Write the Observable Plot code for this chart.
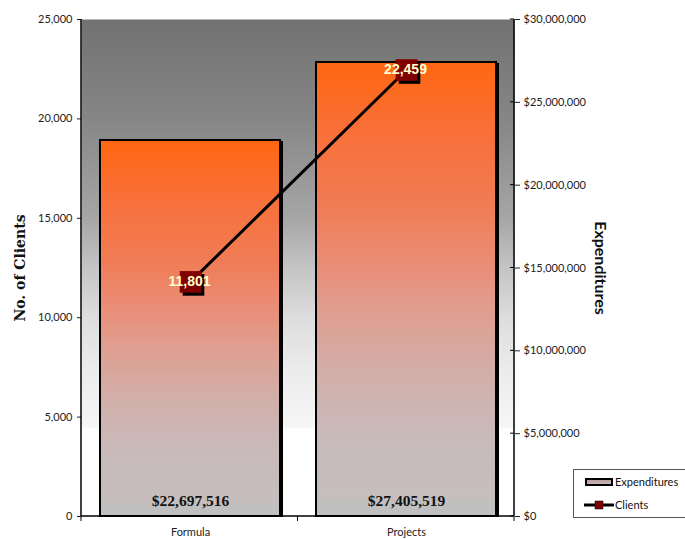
<!DOCTYPE html>
<html>
<head>
<meta charset="utf-8">
<script src="https://cdn.jsdelivr.net/npm/d3@7"></script>
<script src="https://cdn.jsdelivr.net/npm/@observablehq/plot@0.6"></script>
<style>
  html, body { margin: 0; padding: 0; background: #fff; }
  #wrap { position: relative; width: 685px; height: 539px; }
  #legend { position: absolute; left: 573px; top: 469px; width: 111px; height: 47px;
            border: 1px solid #555; background: #fff; font-family: Lato, sans-serif; font-size: 11px; color: #111; }
</style>
</head>
<body>
<div id="wrap"></div>
<script>
// ---- data ----
const categories = ["Formula", "Projects"];
const expenditures = [22697516, 27405519];
const clients = [11801, 22459];
const clientTicks = [0, 5000, 10000, 15000, 20000, 25000];
const expenditureTicks = [0, 5000000, 10000000, 15000000, 20000000, 25000000, 30000000];
const clientMax = 25000;
const expenditureMax = 30000000;

const rows = categories.map((c, i) => ({category: c, exp: expenditures[i], clients: clients[i]}));
// secondary (right) axis mapped onto the primary y scale
const expToY = d3.scaleLinear([0, expenditureMax], [0, clientMax]);
const money = v => "$" + d3.format(",")(Math.round(v));

const W = 685, H = 539;
const mL = 81, mR = 171, mT = 19, mB = 23;

// custom mark: axis lines, inner right ticks and category-boundary ticks
const axisLines = (index, scales, values, dim) => {
  const g = d3.create("svg:g").attr("stroke", "#000");
  const x0 = dim.marginLeft, x1 = dim.width - dim.marginRight;
  const y0 = dim.marginTop, y1 = dim.height - dim.marginBottom;
  g.append("line").attr("x1", x0).attr("x2", x0).attr("y1", y0).attr("y2", y1).attr("stroke-width", 1.5);
  g.append("line").attr("x1", x1).attr("x2", x1).attr("y1", y0).attr("y2", y1).attr("stroke-width", 1.5);
  g.append("line").attr("x1", x0).attr("x2", x1).attr("y1", y1).attr("y2", y1).attr("stroke-width", 1.5);
  for (const t of expenditureTicks) {
    const y = scales.y(expToY(t));
    g.append("line").attr("x1", x1 - 4).attr("x2", x1).attr("y1", y).attr("y2", y).attr("stroke-width", 1);
  }
  const n = categories.length;
  for (let i = 0; i <= n; i++) {
    const x = x0 + i * (x1 - x0) / n;
    g.append("line").attr("x1", x).attr("x2", x).attr("y1", y1).attr("y2", y1 + 5).attr("stroke-width", 1);
  }
  return g.node();
};

const chart = Plot.plot({
  width: W, height: H,
  marginLeft: mL, marginRight: mR, marginTop: mT, marginBottom: mB,
  style: {fontFamily: "Lato, sans-serif", fontSize: "11px", background: "transparent", color: "#222"},
  x: {domain: categories, paddingInner: 1/6, paddingOuter: 1/12, axis: null},
  y: {domain: [0, clientMax], axis: null},
  marks: [
    Plot.frame({fill: "url(#bgGrad)", stroke: "none"}),
    // bar shadows
    Plot.barY(rows, {x: "category", y: d => expToY(d.exp), fill: "#000", dx: 3, dy: 1}),
    // bars
    Plot.barY(rows, {x: "category", y: d => expToY(d.exp), fill: "url(#barGrad)", stroke: "#000", strokeWidth: 2}),
    // bar value labels
    Plot.text(rows, {x: "category", y: 0, text: d => money(d.exp), dy: -15,
      fontFamily: "'Liberation Serif', serif", fontWeight: "bold", fontSize: 15.5, fill: "#111"}),
    // clients line
    Plot.line(rows, {x: "category", y: "clients", stroke: "#000", strokeWidth: 3}),
    Plot.dot(rows, {x: "category", y: "clients", symbol: "square", r: 12.2, fill: "#000", dx: 3, dy: 3}),
    Plot.dot(rows, {x: "category", y: "clients", symbol: "square", r: 12.2, fill: "#800000"}),
    Plot.text(rows, {x: "category", y: "clients", text: d => d3.format(",")(d.clients), dx: -1,
      fontFamily: "'Liberation Sans', Arial, sans-serif", fontWeight: "bold", fontSize: 14, fill: "#ffffcc"}),
    // left axis
    Plot.axisY(clientTicks, {anchor: "left", tickFormat: d3.format(","), tickSize: 4, tickPadding: 5, label: null}),
    // right axis (expenditures)
    Plot.axisY(expenditureTicks.map(expToY), {anchor: "right", tickFormat: v => money(expToY.invert(v)), tickSize: 5, tickPadding: 4, label: null}),
    // x axis labels
    Plot.axisX(categories, {anchor: "bottom", tickSize: 0, tickPadding: 12, label: null}),
    // axis titles
    Plot.text(["No. of Clients"], {frameAnchor: "left", text: d => d, rotate: -90, dx: -61, textAnchor: "middle",
      fontFamily: "'DejaVu Serif', serif", fontWeight: "bold", fontSize: 14, fill: "#111"}),
    Plot.text(["Expenditures"], {frameAnchor: "right", text: d => d, rotate: 90, dx: 86, textAnchor: "middle",
      fontFamily: "Lato, sans-serif", fontWeight: "bold", fontSize: 16, fill: "#111"}),
    axisLines
  ]
});

// gradients
const defs = d3.select(chart).insert("defs", ":first-child");
const bg = defs.append("linearGradient").attr("id", "bgGrad").attr("x1", 0).attr("x2", 0).attr("y1", 0).attr("y2", 1);
[[0, "#727272"], [0.2, "#868686"], [0.4, "#a6a6a6"], [0.5, "#c4c4c4"], [0.6, "#dddddd"], [0.7, "#ebebeb"],
 [0.82, "#f6f6f6"], [0.825, "#ffffff"], [1, "#ffffff"]]
  .forEach(([o, c]) => bg.append("stop").attr("offset", o).attr("stop-color", c));
const bar = defs.append("linearGradient").attr("id", "barGrad").attr("x1", 0).attr("x2", 0).attr("y1", 0).attr("y2", 1);
[[0, "#ff6611"], [0.16, "#f8703a"], [0.32, "#f07c55"], [0.45, "#e98e78"], [0.55, "#e09e90"], [0.68, "#d2aea8"],
 [0.82, "#c9baba"], [0.965, "#c6bebe"], [0.97, "#c0c0c0"], [1, "#c0c0c0"]]
  .forEach(([o, c]) => bar.append("stop").attr("offset", o).attr("stop-color", c));

const wrap = document.getElementById("wrap");
wrap.appendChild(chart);

// legend
const legend = document.createElement("div");
legend.id = "legend";
legend.innerHTML = `
<svg width="111" height="47" style="display:block">
  <defs><linearGradient id="legGrad" x1="0" x2="0" y1="0" y2="1">
    <stop offset="0" stop-color="#b89a9a"/><stop offset="1" stop-color="#cbbcbc"/></linearGradient></defs>
  <rect x="12" y="9" width="26" height="6" fill="url(#legGrad)" stroke="#000" stroke-width="2"/>
  <text x="41" y="16" font-family="Lato, sans-serif" font-size="11" fill="#111">Expenditures</text>
  <line x1="10" x2="40" y1="35" y2="35" stroke="#000" stroke-width="3"/>
  <rect x="21" y="31" width="8" height="8" fill="#800000" stroke="#000" stroke-width="0.5"/>
  <text x="41" y="39" font-family="Lato, sans-serif" font-size="11" fill="#111">Clients</text>
</svg>`;
wrap.appendChild(legend);
</script>
</body>
</html>
